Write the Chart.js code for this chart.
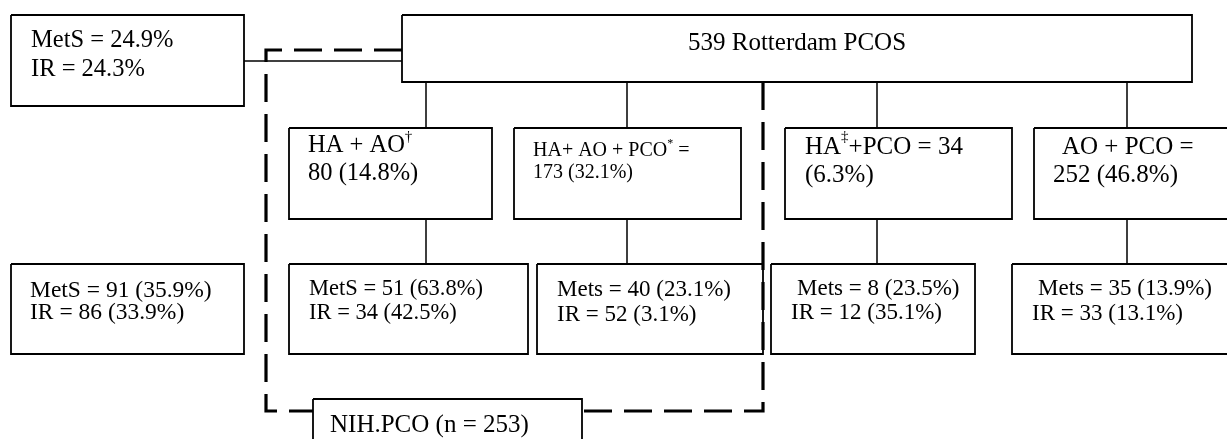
<!DOCTYPE html>
<html>
<head>
<meta charset="utf-8">
<script src="https://cdn.jsdelivr.net/npm/chart.js@4.4.1/dist/chart.umd.min.js"></script>
<style>
  html, body { margin: 0; padding: 0; background: #fff; }
  #flow { display: block; }
</style>
</head>
<body>
<canvas id="flow" width="1227" height="439"></canvas>
<script>
// values
const totalN = 539
const cohortName = "Rotterdam PCOS"
const overallMets = 24.9
const overallIR = 24.3
const phenotypes = ["HA + AO{†}", "HA+ AO + PCO{*}", "HA{‡}+PCO", "AO + PCO"]
const phenoN = [80, 173, 34, 252]
const phenoPct = [14.8, 32.1, 6.3, 46.8]
const metsTag = ["MetS", "Mets", "Mets", "Mets"]
const metsN = [51, 40, 8, 35]
const metsPct = [63.8, 23.1, 23.5, 13.9]
const irN = [34, 52, 12, 33]
const irPct = [42.5, 3.1, 35.1, 13.1]
const nihN = 253
const nihMets = [91, 35.9]
const nihIR = [86, 33.9]

// text of each box, built from the values
const topLines = [totalN + " " + cohortName]
const overallLines = ["MetS = " + overallMets + "%", "IR = " + overallIR + "%"]
const phenoLines = [
    [phenotypes[0], phenoN[0] + " (" + phenoPct[0] + "%)"],
    [phenotypes[1] + " =", phenoN[1] + " (" + phenoPct[1] + "%)"],
    [phenotypes[2] + " = " + phenoN[2], "(" + phenoPct[2] + "%)"],
    [phenotypes[3] + " =", phenoN[3] + " (" + phenoPct[3] + "%)"]
]
const outcomeLines = metsN.map((m, i) => [
    metsTag[i] + " = " + m + " (" + metsPct[i] + "%)",
    "IR = " + irN[i] + " (" + irPct[i] + "%)"
])
const nihLines = [
    "MetS = " + nihMets[0] + " (" + nihMets[1] + "%)",
    "IR = " + nihIR[0] + " (" + nihIR[1] + "%)"
]
const nihLabel = ["NIH.PCO (n = " + nihN + ")"]

// layout (pixel units of the figure): boxes are [x0, y0, x1, y1]
const topBox = [402, 15, 1192, 82]
const overallBox = [11, 15, 244, 106]
const phenoBoxes = [[289, 128, 492, 219], [514, 128, 741, 219], [785, 128, 1012, 219], [1034, 128, 1240, 219]]
const outcomeBoxes = [[289, 264, 528, 354], [537, 264, 763, 354], [771, 264, 975, 354], [1012, 264, 1240, 354]]
const nihStatBox = [11, 264, 244, 354]
const nihBox = [313, 399, 582, 450]
const stemX = [426, 627, 877, 1127]

// text placement: x and y (middle) of each line, font size, centered
const textSpecs = [
    { lines: topLines, x: [797], y: [43], size: 25, center: true },
    { lines: overallLines, x: [31, 31], y: [41, 70], size: 24.5 },
    { lines: phenoLines[0], x: [308, 308], y: [146, 174], size: 24.5 },
    { lines: phenoLines[1], x: [533, 533], y: [151, 173], size: 20 },
    { lines: phenoLines[2], x: [805, 805], y: [147, 175], size: 25 },
    { lines: phenoLines[3], x: [1062, 1053], y: [147, 175], size: 25 },
    { lines: nihLines, x: [30, 30], y: [291, 313], size: 23.5 },
    { lines: outcomeLines[0], x: [309, 309], y: [289, 313], size: 22.5 },
    { lines: outcomeLines[1], x: [557, 557], y: [290, 315], size: 23 },
    { lines: outcomeLines[2], x: [797, 791], y: [289, 313], size: 23 },
    { lines: outcomeLines[3], x: [1038, 1032], y: [289, 314], size: 23 },
    { lines: nihLabel, x: [330], y: [425], size: 25 }
]

function rect(b) {
    return [
        { x: b[0], y: b[1] }, { x: b[2], y: b[1] }, { x: b[2], y: b[3] },
        { x: b[0], y: b[3] }, { x: b[0], y: b[1] }
    ]
}

function solid(points, w) {
    return { data: points, showLine: true, borderColor: "#000", borderWidth: w || 1.8, pointRadius: 0, fill: false, tension: 0 }
}

var datasets = []
var allBoxes = [topBox, overallBox, nihStatBox, nihBox].concat(phenoBoxes, outcomeBoxes)
allBoxes.forEach(b => datasets.push(solid(rect(b))))

// stems between rows
stemX.forEach(sx => {
    datasets.push(solid([{ x: sx, y: topBox[3] }, { x: sx, y: phenoBoxes[0][1] }], 1.5))
    datasets.push(solid([{ x: sx, y: phenoBoxes[0][3] }, { x: sx, y: outcomeBoxes[0][1] }], 1.5))
})
// link from overall box to top box
datasets.push(solid([{ x: overallBox[2], y: 61 }, { x: topBox[0], y: 61 }], 1.5))

// dashed NIH frame
var dashed = { showLine: true, borderColor: "#000", borderWidth: 3.2, borderDash: [28, 12], pointRadius: 0, fill: false, tension: 0 }
datasets.push(Object.assign({}, dashed, { data: [{ x: topBox[0], y: 50 }, { x: 266, y: 50 }, { x: 266, y: 411 }, { x: nihBox[0], y: 411 }] }))
datasets.push(Object.assign({}, dashed, { data: [{ x: 763, y: topBox[3] }, { x: 763, y: 411 }, { x: nihBox[2], y: 411 }] }))

function drawRich(ctx, str, x, y, size, center) {
    // {..} marks superscript
    var parts = str.split(/(\{[^}]*\})/).filter(p => p.length)
    var font = size + 'px "Liberation Serif", "Times New Roman", serif'
    var supFont = Math.round(size * 0.6) + 'px "Liberation Serif", "Times New Roman", serif'
    var total = 0
    parts.forEach(p => {
        ctx.font = p[0] === "{" ? supFont : font
        total += ctx.measureText(p[0] === "{" ? p.slice(1, -1) : p).width
    })
    var cx = center ? x - total / 2 : x
    parts.forEach(p => {
        var sup = p[0] === "{"
        var t = sup ? p.slice(1, -1) : p
        ctx.font = sup ? supFont : font
        ctx.fillText(t, cx, sup ? y - size * 0.38 : y)
        cx += ctx.measureText(t).width
    })
}

const boxText = {
    id: "boxText",
    afterDatasetsDraw(chart) {
        const ctx = chart.ctx
        const xs = chart.scales.x
        const ys = chart.scales.y
        ctx.save()
        ctx.fillStyle = "#000"
        ctx.textBaseline = "middle"
        ctx.textAlign = "left"
        textSpecs.forEach(t => {
            t.lines.forEach((line, i) => {
                drawRich(ctx, line, xs.getPixelForValue(t.x[i]), ys.getPixelForValue(t.y[i]), t.size, t.center)
            })
        })
        ctx.restore()
    }
}

window.flowChart = new Chart("flow", {
    type: "scatter",
    data: { datasets: datasets },
    options: {
        responsive: false,
        animation: false,
        layout: { padding: 0 },
        scales: {
            x: { type: "linear", min: 0, max: 1227, display: false },
            y: { type: "linear", min: 0, max: 439, reverse: true, display: false }
        },
        plugins: { legend: { display: false }, tooltip: { enabled: false } }
    },
    plugins: [boxText]
})
</script>
</body>
</html>
